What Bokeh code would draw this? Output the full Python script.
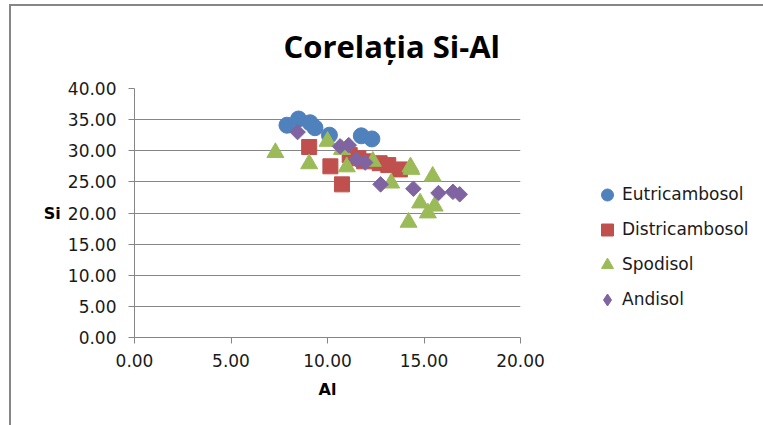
import math
from bokeh.plotting import figure
from bokeh.models import Legend, LegendItem, NumeralTickFormatter, FixedTicker
from bokeh.embed import file_html
from bokeh.resources import INLINE

# ---------------- data ----------------
title_text = "Corelația Si-Al"
x_title = "Al"
y_title = "Si"
series_names = ["Eutricambosol", "Districambosol", "Spodisol", "Andisol"]

eutri_al = [7.9, 8.5, 9.1, 9.35, 10.1, 11.75, 12.3]
eutri_si = [34.1, 35.1, 34.5, 33.7, 32.5, 32.4, 31.9]

distri_al = [9.05, 10.15, 10.75, 11.15, 11.6, 11.9, 12.7, 13.15, 13.75]
distri_si = [30.6, 27.5, 24.6, 29.3, 28.8, 28.3, 28.0, 27.7, 27.0]

spodi_al = [7.3, 9.05, 10.0, 10.75, 11.0, 12.35, 13.3, 14.35, 14.3, 15.45, 14.8, 15.55, 15.2, 14.2]
spodi_si = [29.7, 27.9, 31.5, 30.2, 27.4, 28.3, 24.8, 27.0, 27.4, 25.9, 21.6, 21.1, 20.0, 18.5]

andi_al = [8.45, 10.65, 11.1, 11.5, 11.95, 12.75, 14.45, 15.75, 16.5, 16.85]
andi_si = [33.0, 30.7, 30.9, 28.6, 28.1, 24.6, 23.9, 23.2, 23.4, 23.0]

x_ticks = [0, 5, 10, 15, 20]
y_ticks = [0, 5, 10, 15, 20, 25, 30, 35, 40]

# ---------------- layout (page pixels) ----------------
W, H = 763, 425
FL, FT, FW, FH = 134, 88, 386, 249   # plot frame on the page
R = W - FL - FW
B = H - FT - FH
GRAY = "#868686"
TICK_FONT = "DejaVu Sans"

p = figure(frame_width=FW, frame_height=FH, x_range=(0, 20), y_range=(0, 40),
           output_backend="svg", toolbar_location=None,
           min_border_left=FL, min_border_right=R, min_border_top=FT, min_border_bottom=B)
# grey chart-area border (left x=9..11, top y=4..6, right x=760..762), painted behind the canvas
p.styles = {"box-shadow": ("inset 9px 0 0 0 white, inset 0 4px 0 0 white, inset -1px 0 0 0 white, "
                           "inset 11px 0 0 0 #868686, inset 0 6px 0 0 #868686, inset -3px 0 0 0 #868686"),
            "background-color": "white"}
p.outline_line_color = None
p.background_fill_color = "white"
p.border_fill_color = None

# title
p.title.text = title_text
p.title.text_font = "Open Sans"
p.title.text_font_style = "bold"
p.title.text_font_size = "31px"
p.title.align = "left"
p.title.offset = 283 - FL
p.title.standoff = 44
p.title.text_color = "black"

for ax, ticks in ((p.xaxis, x_ticks), (p.yaxis, y_ticks)):
    ax.ticker = FixedTicker(ticks=ticks)
    ax.formatter = NumeralTickFormatter(format="0.00")
    ax.axis_line_color = GRAY
    ax.major_tick_line_color = GRAY
    ax.minor_tick_line_color = None
    ax.major_tick_in = 0
    ax.major_tick_out = 6
    ax.major_label_text_font = TICK_FONT
    ax.major_label_text_font_size = "17px"
    ax.major_label_text_color = "#1a1a1a"
    ax.axis_label_text_font = TICK_FONT
    ax.axis_label_text_font_style = "bold"
    ax.axis_label_text_font_size = "16px"
    ax.axis_label_text_color = "black"
p.xaxis.major_label_standoff = 10
p.yaxis.major_label_standoff = 12
p.xaxis.axis_label = x_title
p.yaxis.axis_label = y_title
p.yaxis.axis_label_orientation = "horizontal"
p.xaxis.axis_label_standoff = 10
p.yaxis.axis_label_standoff = 4

p.xgrid.visible = False
p.ygrid.grid_line_color = GRAY
p.ygrid.grid_line_width = 1

colors = ["#4F81BD", "#C0504D", "#9BBB59", "#8064A2"]
r1 = p.scatter(eutri_al, eutri_si, marker="circle", size=16, fill_color=colors[0], line_color=colors[0])
r2 = p.scatter(distri_al, distri_si, marker="square", size=15, fill_color=colors[1], line_color=colors[1])
r3 = p.scatter(spodi_al, spodi_si, marker="triangle", size=17, fill_color=colors[2], line_color=colors[2])
# diamond key glyph (legend keys ignore rotation); fully hidden under the rotated squares drawn next
r4_key = p.scatter(andi_al, andi_si, marker="diamond", size=11, fill_color=colors[3], line_color=colors[3])
r4 = p.scatter(andi_al, andi_si, marker="square", angle=math.pi / 4, size=11, fill_color=colors[3], line_color=colors[3])

# legend in the right panel; tuple location relative to the panel's bottom-left
leg_left, leg_bottom = 592, 316.5
legend = Legend(items=[LegendItem(label=n, renderers=[r]) for n, r in zip(series_names, [r1, r2, r3, r4_key])],
                location=(leg_left - (FL + FW), (FT + FH) - leg_bottom), orientation="vertical",
                glyph_width=30, glyph_height=35, label_height=35, spacing=0, padding=0, margin=0,
                label_standoff=0, border_line_color=None, background_fill_alpha=0,
                label_text_font=TICK_FONT, label_text_font_size="17px", label_text_color="#1a1a1a")
p.add_layout(legend, "right")

open("out.html", "w").write(file_html(p, INLINE))
